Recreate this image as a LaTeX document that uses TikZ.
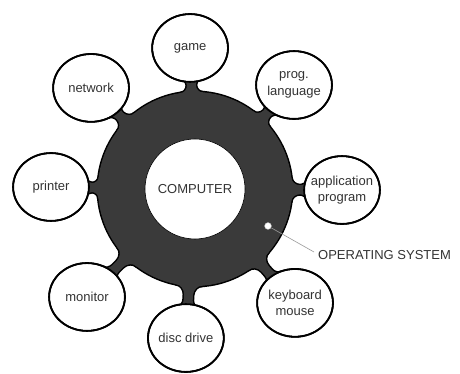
\documentclass[tikz,border=0pt]{standalone}
\usepackage{fontspec}
\setmainfont{Liberation Sans}
\usetikzlibrary{shapes.geometric,calc}
\definecolor{ringgray}{HTML}{3A3A3A}
\definecolor{txtgray}{HTML}{333333}
\definecolor{leadgray}{HTML}{9A9A9A}
% stem (neck) between the ring and a satellite, in the ring's rotated frame
\newcommand{\drawstem}[3]{%
  \pgfmathsetmacro{\stE}{#2}%
  \pgfmathsetmacro{\stG}{\stE-97}%
  \pgfmathsetmacro{\stF}{min(9,0.6*\stG)}%
  \pgfmathsetmacro{\stS}{min(5,0.4*\stG)}%
  \pgfmathsetmacro{\stK}{0.552*\stF}%
  \pgfmathsetmacro{\stL}{0.552*\stS}%
  \pgfmathsetmacro{\stW}{4.5+\stF}%
  \pgfmathsetmacro{\stV}{4.5+\stS}%
  \pgfmathsetmacro{\stX}{sqrt(97*97-\stW*\stW)}%
  \pgfmathsetmacro{\stA}{97+\stF}%
  \pgfmathsetmacro{\stB}{\stE-\stS}%
  \begin{scope}[shift={(ring)}, rotate=#1]
  \path[#3] (\stX,-\stW) .. controls (\stX,-\stW+\stK) and (\stA-\stK,-4.5) .. (\stA,-4.5)
    -- (\stB,-4.5) .. controls (\stB+\stL,-4.5) and (\stE+2,-\stV+\stL) .. (\stE+2,-\stV)
    -- (\stE+8,-\stV) -- (\stE+8,\stV) -- (\stE+2,\stV)
    .. controls (\stE+2,\stV-\stL) and (\stB+\stL,4.5) .. (\stB,4.5)
    -- (\stA,4.5) .. controls (\stA-\stK,4.5) and (\stX,\stW-\stK) .. (\stX,\stW)
    -- (88,\stW) -- (88,-\stW) -- cycle;
  \end{scope}}
\begin{document}
\begin{tikzpicture}[x=1pt,y=1pt,
  sat/.style={ellipse, minimum width=74pt, minimum height=66pt, inner sep=0pt},
  satshape/.style={x radius=37pt, y radius=33pt},
  satrim/.style={x radius=37.9pt, y radius=33.9pt},
  lbl/.style={font=\fontsize{13pt}{16.5pt}\selectfont, text=txtgray,
    align=center, inner sep=0pt},
  outlinepass/.style={draw=black, line width=3pt, line join=round},
  satoutline/.style={draw=black, line width=3.6pt},
  fillpass/.style={fill=ringgray}]
\useasboundingbox (0,0) rectangle (460,374);
\fill[white] (0,0) rectangle (460,374);
\coordinate (ring) at (195,185);
% satellite positions (named, drawn below)
\node[sat] (game) at ($(ring)+(92:141.1)$) {};
\node[sat] (prog) at ($(ring)+(46.4:143.6)$) {};
\node[sat] (app)  at ($(ring)+(-0.4:147)$) {};
\node[sat] (kbd)  at ($(ring)+(-48.7:151.6)$) {};
\node[sat] (disc) at ($(ring)+(-93.5:149.3)$) {};
\node[sat] (mon)  at ($(ring)+(-135:152.7)$) {};
\node[sat] (prn)  at ($(ring)+(179.2:144)$) {};
\node[sat] (net)  at ($(ring)+(135.8:145)$) {};
% outline pass: ring, stems, satellites
\draw[outlinepass] (ring) circle (97pt);
\foreach \sa/\sd/\se in {92/141.1/33, 46.4/143.6/34.8, -0.4/147/37,
  -48.7/151.6/34.8, -93.5/149.3/33, -135/152.7/34.9, 179.2/144/37,
  135.8/145/34.9}
  {\drawstem{\sa}{\sd-\se}{outlinepass}}
\foreach \nm in {game,prog,app,kbd,disc,mon,prn,net}
  {\draw[satoutline] (\nm.center) ellipse [satshape];}
% fill pass
\fill[fillpass] (ring) circle (97pt);
\foreach \sa/\sd/\se in {92/141.1/33, 46.4/143.6/34.8, -0.4/147/37,
  -48.7/151.6/34.8, -93.5/149.3/33, -135/152.7/34.9, 179.2/144/37,
  135.8/145/34.9}
  {\drawstem{\sa}{\sd-\se}{fillpass}}
\foreach \nm in {game,prog,app,kbd,disc,mon,prn,net}
  {\fill[white] (\nm.center) ellipse [satshape];
   \draw[black, line width=1.8pt] (\nm.center) ellipse [satrim];}
% centre
\node[circle, fill=white, draw=black, line width=0.6pt, minimum size=100pt,
  inner sep=0pt, lbl] (cpu) at (ring) {COMPUTER};
% labels
\node[lbl] at (game) {game};
\node[lbl] at (prog) {prog.\\language};
\node[lbl] at (app) {application\\program};
\node[lbl] at (kbd) {keyboard\\mouse};
\node[lbl] at (disc) {disc drive};
\node[lbl] at (mon) {monitor};
\node[lbl] at (prn) {printer};
\node[lbl] at (net) {network};
% operating system pointer
\node[lbl, anchor=west] (os) at (318,119) {OPERATING SYSTEM};
\coordinate (osend) at ($(os.west)+(-4,3)$);
\node[circle, fill=white, draw=leadgray, line width=0.4pt, minimum size=7pt,
  inner sep=0pt] (dot) at (268,148) {};
\draw[leadgray, line width=0.6pt] (dot) -- (osend);
\end{tikzpicture}
\end{document}
